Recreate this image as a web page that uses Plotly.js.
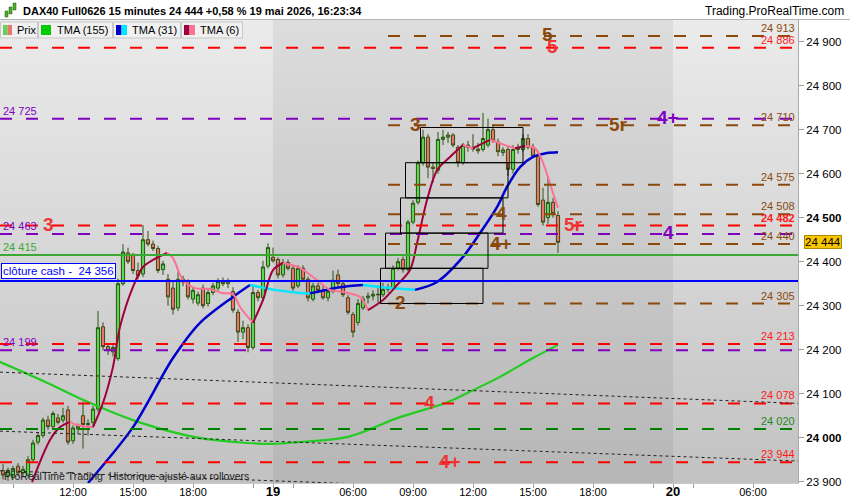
<!DOCTYPE html>
<html><head><meta charset="utf-8">
<script src="https://cdn.plot.ly/plotly-3.0.1.min.js"></script>
<style>
html,body{margin:0;padding:0;background:#fff;overflow:hidden;}
#wrap{position:relative;width:850px;height:500px;background:#fff;}
#bg{position:absolute;left:0;top:20px;width:798px;height:463px;background:linear-gradient(#ebebeb,#c2c2c2);}
#chart{position:absolute;left:0;top:0;width:850px;height:500px;}
</style></head><body>
<div id="wrap"><div id="bg"></div><div id="chart"></div></div>
<script>
// ---------------- DATA ----------------
const firstBar = -54; // bar index of first candle (0 = 19 mai 02:00, 15-min bars)
const opens  = [23925,23915,23910,23935,23920,23915,23950,23990,24005,24040,24025,24045,24040,24063,23993,24020,24050,24030,24035,24065,24252,24207,24195,24180,24350,24420,24415,24380,24372,24450,24440,24430,24382,24360,24340,24295,24360,24355,24315,24306,24340,24305,24330,24340,24355,24350,24332,24285,24240,24250,24205,24330,24318,24390,
24410,24405,24370,24398,24385,24345,24385,24360,24315,24345,24335,24318,24333,24370,24350,24318,24280,24262,24295,24318,24322,24326,24325,24337,24340,24385,24405,24382,24490,24535,24625,24683,24615,24608,24678,24683,24688,24660,24625,24665,24660,24656,24655,24665,24700,24672,24648,24655,24610,24655,24655,24680,24660,24640,24540,24500,24535,24505];
const highs  = [23940,23932,23936,23942,23936,23958,23995,24012,24046,24050,24060,24054,24068,24072,24028,24032,24082,24042,24072,24288,24262,24215,24212,24362,24440,24432,24420,24398,24483,24470,24448,24436,24402,24372,24356,24378,24368,24360,24342,24332,24348,24336,24352,24362,24364,24362,24342,24292,24266,24258,24346,24336,24402,24442,
24432,24410,24406,24405,24390,24392,24392,24366,24352,24352,24346,24340,24380,24382,24356,24324,24286,24315,24322,24330,24335,24346,24352,24350,24392,24408,24412,24495,24540,24630,24700,24690,24625,24695,24700,24695,24692,24665,24670,24675,24690,24670,24738,24725,24712,24680,24660,24662,24665,24668,24690,24690,24668,24650,24568,24595,24545,24515];
const lows   = [23905,23902,23905,23912,23910,23908,23945,23984,24000,24018,24020,24030,24034,23984,23986,24008,23975,24005,24028,24058,24198,24188,24185,24175,24345,24395,24372,24360,24365,24435,24424,24374,24370,24300,24280,24288,24344,24314,24305,24300,24294,24298,24324,24334,24344,24340,24284,24218,24224,24194,24200,24310,24310,24385,
24398,24362,24364,24380,24334,24340,24354,24310,24310,24328,24314,24310,24328,24344,24320,24280,24228,24255,24290,24305,24312,24308,24320,24330,24335,24380,24375,24378,24485,24530,24618,24590,24580,24600,24665,24670,24660,24615,24620,24650,24650,24645,24650,24660,24670,24640,24640,24595,24600,24645,24650,24655,24635,24525,24482,24486,24500,24420];
const closes = [23915,23926,23930,23920,23928,23950,23988,24005,24040,24025,24055,24035,24050,23990,24022,24026,24030,24032,24065,24250,24207,24198,24205,24350,24422,24400,24380,24368,24450,24440,24430,24380,24395,24320,24292,24360,24354,24320,24335,24325,24300,24330,24345,24355,24350,24356,24290,24240,24250,24205,24330,24318,24388,24432,
24402,24370,24398,24385,24340,24385,24360,24318,24345,24335,24318,24333,24358,24350,24325,24285,24240,24305,24315,24322,24326,24325,24337,24342,24385,24400,24382,24490,24533,24625,24683,24615,24612,24678,24683,24688,24665,24625,24665,24660,24656,24652,24680,24700,24675,24650,24654,24610,24655,24660,24680,24660,24640,24530,24490,24535,24510,24444];

const tma155Bars = [-55,-45,-37,-27,-15,-5,0,5,15,25,35,40,45,52,57];
const tma155Vals = [24174,24124,24081,24036,24000,23988,23986,23990,24002,24045,24081,24108,24136,24181,24211];

const tma31Bars = [-37,-35.2,-28,-20,-14.6,-8,-4.6,0.4,5.4,7.4,13.4,18,23.4,28.4,32.8,38,41.4,44.8,46.8,49.4,52,54.8,57];
const tma31Vals = [23897,23921,24024,24181,24261,24320,24347,24336,24329,24328,24342,24347,24340,24336,24354,24411,24465,24524,24570,24615,24638,24647,24649];

const tma6Bars = [-48.2,-44.6,-42.6,-40.6,-39.2,-36,-34,-32,-30.6,-28,-26,-24,-21.2,-20,-18,-15.6,-12.6,-10.2,-8,-6.6,-4,-2,0,2,5.4,8.8,11.4,14,17.4,19,22,24.8,27.4,28.8,30.8,32.8,35.4,38,40,43.4,46.4,48.4,50.4,52.4,53.8,55,56,57];
const tma6Vals = [23899,23995,24024,24036,24029,24024,24079,24161,24252,24343,24388,24404,24420,24408,24358,24340,24338,24329,24326,24297,24261,24313,24381,24397,24386,24358,24336,24331,24320,24290,24313,24347,24381,24442,24540,24608,24638,24665,24658,24677,24665,24658,24663,24658,24631,24592,24556,24522];

const tickBars   = [-52,-40,-28,-16,-4,0,4,16,28,40,52,64,76,80,84,96];
const tickLabels = ['','12:00','15:00','18:00','','19','','06:00','09:00','12:00','15:00','18:00','','20','','06:00'];
const dayStarts  = [0, 80];

const priceTicks = [23900,24000,24100,24200,24300,24400,24500,24600,24700,24800,24900];

const levelValues = [24913,24886,24725,24710,24575,24508,24482,24463,24440,24415,24356,24305,24213,24199,24078,24020,23944];
const levelKinds  = ['brown','red','purple','brown','brown','brown','red','purple','brown','green','blue','brown','red','purple','red','dkgreen','red'];

const waveTexts  = ['5','5','3','5r','4+','4','4+','5r','4','3','2','4','4+'];
const waveLevels = [24913,24886,24710,24710,24725,24508,24440,24482,24463,24482,24305,24078,23944];
const waveBars   = [54.8,55.8,28.4,69,79,45.6,45.6,60,79,-45,25.4,31.2,35.4];
const waveKinds  = ['brown','red','brown','brown','purple','brown','brown','red','purple','red','brown','red','red'];

const boxTop    = [24705,24625,24545,24465,24385];
const boxBottom = [24625,24545,24465,24385,24305];
const boxStart  = [29.5,26.5,25.5,22.5,21.5];
const boxEnd    = [50,47,46,43,42];

const trendLeft  = [24149,24015,23925];
const trendRight = [24078,23947,23858];

const lastPrice = 24444;
const cashClose = 24356;
const titleText = 'DAX40 Full0626 15 minutes 24 444 +0,58 % 19 mai 2026, 16:23:34';

// ---------------- STYLE ----------------
const FONT = 'Arial, "Liberation Sans", sans-serif';
const xMin = -54.6, xMax = 105;
const yRange = [23897.05, 24949.3];
const PW = 798, PT = 20, PB = 483;
const px = x => x / PW;
const py = y => (PB - y) / (PB - PT);
const kindStyle = {
  brown:  {color:'#8b4a0c', dash:'12px,14px', width:2, start:23, side:'right', text:'#8b4a0c'},
  red:    {color:'#ff0000', dash:'12px,14px', width:2, start:null, side:'right', text:'#ff1a1a'},
  purple: {color:'#8000c0', dash:'12px,14px', width:2, start:null, side:'left', text:'#8000c0'},
  green:  {color:'#3aaa35', dash:'solid', width:2, start:null, side:'left', text:'#3aaa35'},
  blue:   {color:'#0000ff', dash:'solid', width:2, start:null, side:'none', text:'#0000ff'},
  dkgreen:{color:'#008000', dash:'12px,14px', width:2, start:null, side:'right', text:'#1e8a1e'}
};
const waveColor = {brown:'#8b4a0c', red:'#ee3535', purple:'#8000c0'};
const fmt = v => String(v).replace(/\B(?=(\d{3})+(?!\d))/g, ' ');

// ---------------- TRACES ----------------
const barX = opens.map((_, k) => firstBar + k);
const traces = [];
traces.push({
  type:'candlestick', x:barX, open:opens, high:highs, low:lows, close:closes,
  increasing:{line:{color:'#2b5410', width:1}, fillcolor:'#58d850'},
  decreasing:{line:{color:'#3b4a12', width:1}, fillcolor:'#e8736a'},
  whiskerwidth:0, hoverinfo:'skip', showlegend:false
});

function segTraces(xs, ys, upColor, downColor, width) {
  const out = []; let start = 0;
  const up = k => ys[k+1] >= ys[k];
  for (let k = 0; k < xs.length - 1; k++) {
    if (k === xs.length - 2 || up(k+1) !== up(k)) {
      out.push({type:'scatter', mode:'lines', x:xs.slice(start, k+2), y:ys.slice(start, k+2),
        line:{color: up(k) ? upColor : downColor, width:width, shape:'spline', smoothing:0.9},
        hoverinfo:'skip', showlegend:false});
      start = k + 1;
    }
  }
  return out;
}
traces.push({type:'scatter', mode:'lines', x:tma155Bars, y:tma155Vals,
  line:{color:'#22cc22', width:2.2, shape:'spline', smoothing:1}, hoverinfo:'skip', showlegend:false});
traces.push(...segTraces(tma31Bars, tma31Vals, '#0000cc', '#00e6ff', 2.5));
traces.push(...segTraces(tma6Bars, tma6Vals, '#a0003a', '#ff7095', 2));

// ---------------- SHAPES ----------------
const shapes = [];
shapes.push({type:'rect', xref:'x', yref:'paper', x0:dayStarts[0], x1:dayStarts[1], y0:0, y1:1,
  fillcolor:'rgba(0,0,0,0.06)', line:{width:0}, layer:'below'});
levelValues.forEach((v, k) => {
  const s = kindStyle[levelKinds[k]];
  shapes.push({type:'line', xref:'x', yref:'y', x0: s.start === null ? xMin : s.start, x1:xMax, y0:v, y1:v,
    line:{color:s.color, width:s.width, dash:s.dash}});
});
trendLeft.forEach((v, k) => {
  shapes.push({type:'line', xref:'x', yref:'y', x0:xMin, x1:xMax, y0:v, y1:trendRight[k],
    line:{color:'#222', width:1, dash:'3px,3px'}});
});
boxTop.forEach((t, k) => {
  shapes.push({type:'rect', xref:'x', yref:'y', x0:boxStart[k], x1:boxEnd[k], y0:boxBottom[k], y1:t,
    line:{color:'#000', width:1}, fillcolor:'rgba(0,0,0,0)'});
});
// header separator
shapes.push({type:'line', xref:'paper', yref:'paper', x0:0, x1:850/PW, y0:py(19.5), y1:py(19.5), line:{color:'#b4b4b4', width:1}});
// legend buttons
const legendBoxes = [[0,37],[38,112],[113,180],[181,242]];
legendBoxes.forEach(b => shapes.push({type:'rect', xref:'paper', yref:'paper', x0:px(b[0]+0.5), x1:px(b[1]+0.5), y0:py(38), y1:py(22),
  fillcolor:'#f0f0f0', line:{color:'#c8c8c8', width:1}}));
const swatches = [[3,7.5,'#5fd65a'],[7.5,12,'#e8766c'],[41,51,'#00cc00'],[116,121.5,'#0000cc'],[121.5,127,'#00e6ff'],[184,189.5,'#a0003a'],[189.5,195,'#ff7095']];
swatches.forEach(s => shapes.push({type:'rect', xref:'paper', yref:'paper', x0:px(s[0]), x1:px(s[1]), y0:py(35), y1:py(25),
  fillcolor:s[2], line:{width:0}}));
// small candle icon in header
[[5,8,11,17,'#4caf2a'],[9,12,7,14,'#4caf2a'],[13,16,3,10,'#4caf2a']].forEach(c =>
  shapes.push({type:'rect', xref:'paper', yref:'paper', x0:px(c[0]), x1:px(c[1]), y0:py(c[3]), y1:py(c[2]), fillcolor:c[4], line:{color:'#2b5410', width:0.5}}));

// ---------------- ANNOTATIONS ----------------
const ann = [];
ann.push({xref:'paper', yref:'paper', x:px(846), y:py(11), xanchor:'right', yanchor:'middle', showarrow:false,
  text:'Trading.ProRealTime.com', font:{size:12, color:'#000'}});
[['Prix',15],['TMA (155)',55],['TMA (31)',130],['TMA (6)',198]].forEach(l =>
  ann.push({xref:'paper', yref:'paper', x:px(l[1]), y:py(30), xanchor:'left', yanchor:'middle', showarrow:false,
    text:l[0], font:{size:11, color:'#000'}}));
levelValues.forEach((v, k) => {
  const s = kindStyle[levelKinds[k]];
  if (s.side === 'none') return;
  const right = s.side === 'right';
  ann.push({xref:'paper', yref:'y', x: right ? px(796) : px(2), y:v, xanchor: right ? 'right' : 'left', yanchor:'bottom',
    showarrow:false, text: (levelKinds[k]==='red' && v===24482) ? '<b>'+fmt(v)+'</b>' : fmt(v),
    font:{size:11, color:s.text}, borderpad:0, yshift:1});
});
ann.push({xref:'paper', yref:'y', x:px(0.5), y:cashClose, xanchor:'left', yanchor:'bottom', yshift:2, showarrow:false,
  text:'clôture cash -&nbsp; ' + fmt(cashClose), font:{size:11.5, color:'#0000ff'}, bgcolor:'#ffffff', bordercolor:'#0000ff', borderwidth:1, borderpad:1});
waveTexts.forEach((t, k) => ann.push({xref:'x', yref:'y', x:waveBars[k], y:waveLevels[k], xanchor:'center', yanchor:'middle',
  showarrow:false, text:'<b>'+t+'</b>', font:{size:19, color:waveColor[waveKinds[k]]}, yshift:1}));
ann.push({xref:'paper', yref:'y', x:px(803.5), y:lastPrice, xanchor:'left', yanchor:'middle', showarrow:false,
  text:fmt(lastPrice), font:{size:11.5, color:'#000'}, bgcolor:'#f7c600', bordercolor:'#b08a00', borderwidth:1, borderpad:0});
ann.push({xref:'paper', yref:'paper', x:px(2), y:py(476), xanchor:'left', yanchor:'middle', showarrow:false,
  text:'ProRealTime Trading&nbsp; Historique ajusté aux rollovers', font:{size:10.5, color:'#222'}});

// ---------------- LAYOUT ----------------
const layout = {
  width:850, height:500,
  margin:{l:0, r:52, t:20, b:17, pad:0},
  paper_bgcolor:'rgba(0,0,0,0)', plot_bgcolor:'rgba(0,0,0,0)',
  font:{family:FONT, size:11, color:'#000'},
  showlegend:false, hovermode:false, dragmode:false, boxgap:0.1,
  title:{text:'<b>'+titleText+'</b>', xref:'container', yref:'container', x:23/850, xanchor:'left', y:1-11/500, yanchor:'middle',
    font:{family:FONT, size:11, color:'#000'}},
  xaxis:{range:[xMin,xMax], rangeslider:{visible:false}, showgrid:false, zeroline:false,
    tickmode:'array', tickvals:tickBars,
    ticktext:tickLabels.map(t => (t && t.indexOf(':') < 0) ? '<span style="font-size:13px"><b>'+t+'</b></span>' : t),
    ticks:'outside', ticklen:4, tickcolor:'#999', tickfont:{size:11, color:'#000'}, ticklabelstandoff:-5,
    showline:true, linecolor:'#c8c8c8', linewidth:1, fixedrange:true},
  yaxis:{range:yRange, side:'right', showgrid:false, zeroline:false,
    tickmode:'array', tickvals:priceTicks,
    ticktext:priceTicks.map(v => v % 500 === 0 ? '<b>'+fmt(v)+'</b>' : fmt(v)),
    ticks:'outside', ticklen:5, tickcolor:'#999', tickfont:{size:11.5, color:'#000'},
    showline:true, linecolor:'#aaa', linewidth:1, fixedrange:true},
  shapes:shapes, annotations:ann
};
Plotly.newPlot('chart', traces, layout, {staticPlot:true, displayModeBar:false});
</script>
</body></html>
